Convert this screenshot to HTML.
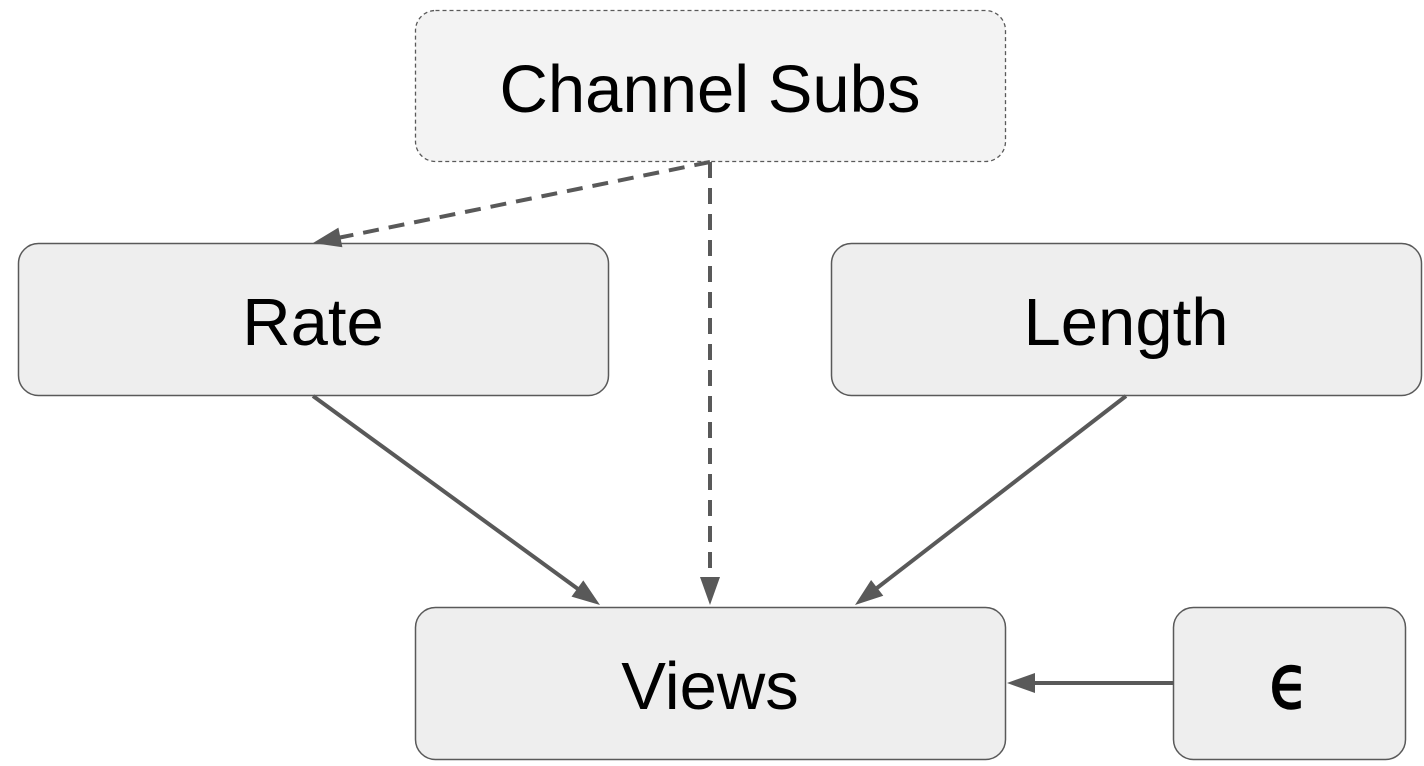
<!DOCTYPE html>
<html><head><style>html,body{margin:0;padding:0;background:#fff}svg{display:block}</style></head>
<body>
<svg width="1424" height="766" xmlns="http://www.w3.org/2000/svg" font-family="Liberation Sans, Arial, sans-serif">
<rect x="415.5" y="10.5" width="590" height="151" rx="20" fill="#f3f3f3" stroke="#595959" stroke-width="1.3" stroke-dasharray="4,3"/>
<rect x="18.5" y="243.5" width="590" height="152" rx="20" fill="#eeeeee" stroke="#595959" stroke-width="1.5"/>
<rect x="831.5" y="243.5" width="590" height="152" rx="20" fill="#eeeeee" stroke="#595959" stroke-width="1.5"/>
<rect x="415.5" y="607.5" width="590" height="152" rx="20" fill="#eeeeee" stroke="#595959" stroke-width="1.5"/>
<rect x="1173.5" y="607.5" width="232" height="152" rx="20" fill="#eeeeee" stroke="#595959" stroke-width="1.5"/>
<g stroke="#595959" stroke-width="4" fill="none">
<line x1="710" y1="162" x2="340" y2="237.5" stroke-dasharray="16,10"/>
<line x1="710" y1="162" x2="710" y2="578" stroke-dasharray="16,10"/>
<line x1="313" y1="396" x2="578" y2="589"/>
<line x1="1126" y1="396" x2="877" y2="588"/>
<line x1="1173" y1="683" x2="1034" y2="683"/>
</g>
<g fill="#595959">
<polygon points="313,243 338.4,227.6 342.4,247.2"/>
<polygon points="710,605 700,577 720,577"/>
<polygon points="600,605 571.5,596.6 583.3,580.4"/>
<polygon points="855,605 883.3,595.8 871.1,580"/>
<polygon points="1007,683 1035,673 1035,693"/>
</g>
<g font-size="67" fill="#000" text-anchor="middle">
<text x="710" y="112">Channel Subs</text>
<text x="313" y="345">Rate</text>
<text x="1126" y="345">Length</text>
<text x="710" y="709">Views</text>
<text x="1289" y="708" font-family="DejaVu Sans, sans-serif" font-size="76" stroke="#000" stroke-width="1.5" transform="translate(1289 708) scale(0.85 1) translate(-1289 -708)">ϵ</text>
</g>
</svg>
</body></html>
